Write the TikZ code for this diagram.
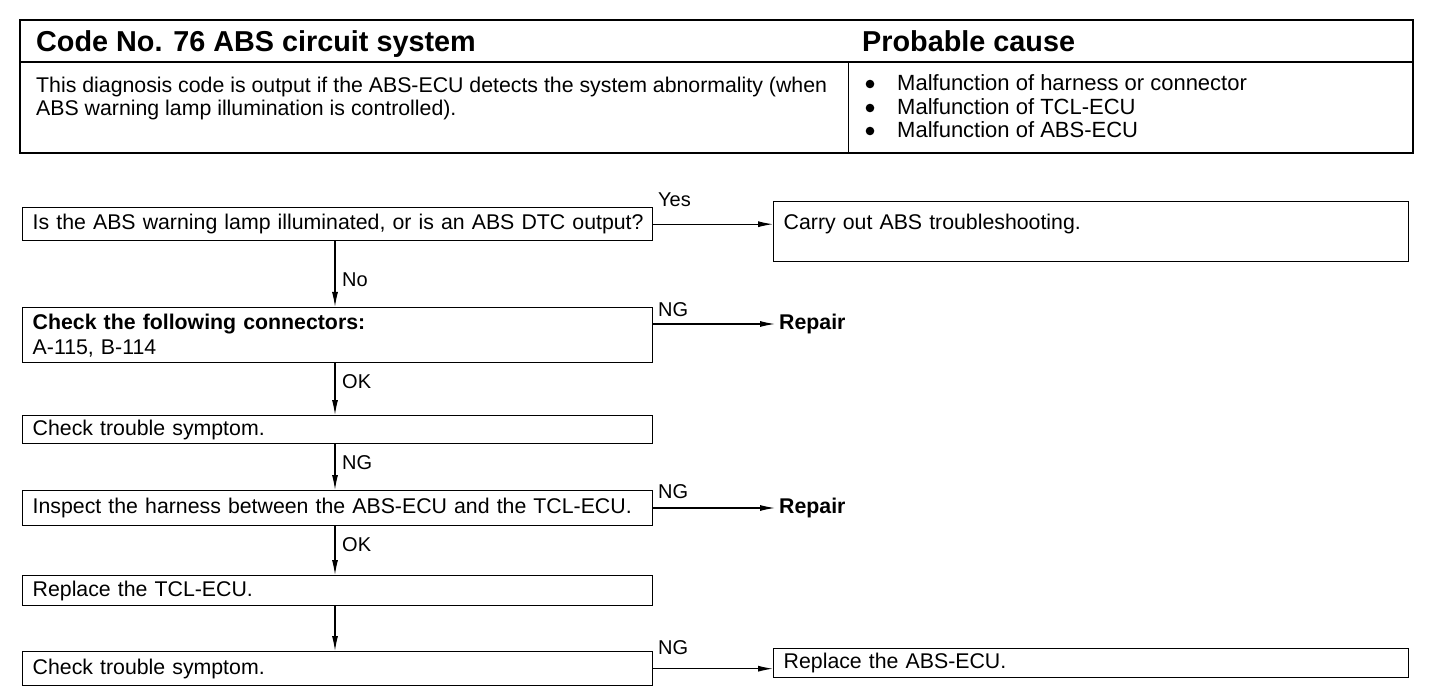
\documentclass[tikz,border=0pt]{standalone}
\usepackage{fontspec}
\setmainfont{Liberation Sans}
\usetikzlibrary{arrows.meta}
\tikzset{
  flowbox/.style={draw, line width=1.4pt, rectangle, anchor=north west, inner xsep=10pt, inner ysep=0pt, align=left, text width=#1},
  flowtxt/.style={font=\fontsize{21.3}{25}\selectfont},
  bflowtxt/.style={font=\fontsize{21.3}{25}\selectfont\bfseries},
  lbl/.style={anchor=west, inner sep=0pt, font=\fontsize{20}{24}\selectfont},
  conn/.style={line width=1.1pt, -{Latex[length=15pt,width=6pt]}},
  hdr/.style={anchor=base west, inner sep=0pt, font=\fontsize{28.8}{32}\selectfont\bfseries},
  body/.style={anchor=west, inner sep=0pt, font=\fontsize{21.3}{25}\selectfont},
  cause/.style={anchor=west, inner sep=0pt, font=\fontsize{22}{26}\selectfont},
}
\begin{document}
\begin{tikzpicture}[x=1pt,y=-1pt]
\useasboundingbox (0,0) rectangle (1456,700);
% table
\draw[line width=1.8pt] (20,20) rectangle (1413,153);
\draw[line width=1.4pt] (20,62) -- (1413,62);
\draw[line width=0.8pt] (848,62) -- (848,153);
\node[hdr] (h1) at (36,52) {Code No. 76 ABS circuit system};
\node[hdr] (h2) at (862,52) {Probable cause};
\node[body] (d1) at (36,87) {This diagnosis code is output if the ABS-ECU detects the system abnormality (when};
\node[body] (d2) at (36,110) {ABS warning lamp illumination is controlled).};
\fill (870,84) circle (4.3);
\fill (870,108) circle (4.3);
\fill (870,131) circle (4.3);
\node[cause] (c1) at (897,83) {Malfunction of harness or connector};
\node[cause] (c2) at (897,107) {Malfunction of TCL-ECU};
\node[cause] (c3) at (897,130) {Malfunction of ABS-ECU};
% flow boxes
\coordinate (colx) at (335,0);
\node[flowbox=610pt, flowtxt, minimum height=33pt] (b1) at (22,207) {\mbox{Is the ABS warning lamp illuminated, or is an ABS DTC output?}};
\node[flowbox=615pt, flowtxt, minimum height=60pt] (carry) at (773,201) {Carry out ABS troubleshooting.\\[-5pt]\mbox{}};
\node[flowbox=610pt, flowtxt, minimum height=55pt] (b2) at (22,307) {\textbf{Check the following connectors:}\\A-115, B-114};
\node[flowbox=610pt, flowtxt, minimum height=28pt] (b3) at (22,415) {Check trouble symptom.};
\node[flowbox=610pt, flowtxt, minimum height=35pt] (b4) at (22,490) {\mbox{Inspect the harness between the ABS-ECU and the TCL-ECU.}};
\node[flowbox=610pt, flowtxt, minimum height=30pt] (b5) at (22,575) {Replace the TCL-ECU.};
\node[flowbox=610pt, flowtxt, minimum height=34pt] (b6) at (22,651) {Check trouble symptom.};
\node[flowbox=615pt, flowtxt, minimum height=29pt] (rep) at (773,648) {Replace the ABS-ECU.};
\node[anchor=west, inner xsep=4pt, inner ysep=0pt, bflowtxt] (r1) at (775,324) {Repair};
\node[anchor=west, inner xsep=4pt, inner ysep=0pt, bflowtxt] (r2) at (775,508) {Repair};
% connectors
\draw[conn] (b1.east) -- (b1.east -| carry.west);
\draw[conn] (r1.west -| b2.east) -- (r1.west);
\draw[conn] (r2.west -| b4.east) -- (r2.west);
\draw[conn] (b6.east) -- (b6.east -| rep.west);
\draw[conn] (b1.south -| colx) -- (b2.north -| colx);
\draw[conn] (b2.south -| colx) -- (b3.north -| colx);
\draw[conn] (b3.south -| colx) -- (b4.north -| colx);
\draw[conn] (b4.south -| colx) -- (b5.north -| colx);
\draw[conn] (b5.south -| colx) -- (b6.north -| colx);
% labels
\node[lbl] (lyes) at (658,200) {Yes};
\node[lbl] (lno) at (342,280) {No};
\node[lbl] (lng1) at (658,310) {NG};
\node[lbl] (lok1) at (342,382) {OK};
\node[lbl] (lng2) at (342,463) {NG};
\node[lbl] (lng3) at (658,492) {NG};
\node[lbl] (lok2) at (342,545) {OK};
\node[lbl] (lng4) at (658,648) {NG};
\end{tikzpicture}
\end{document}
